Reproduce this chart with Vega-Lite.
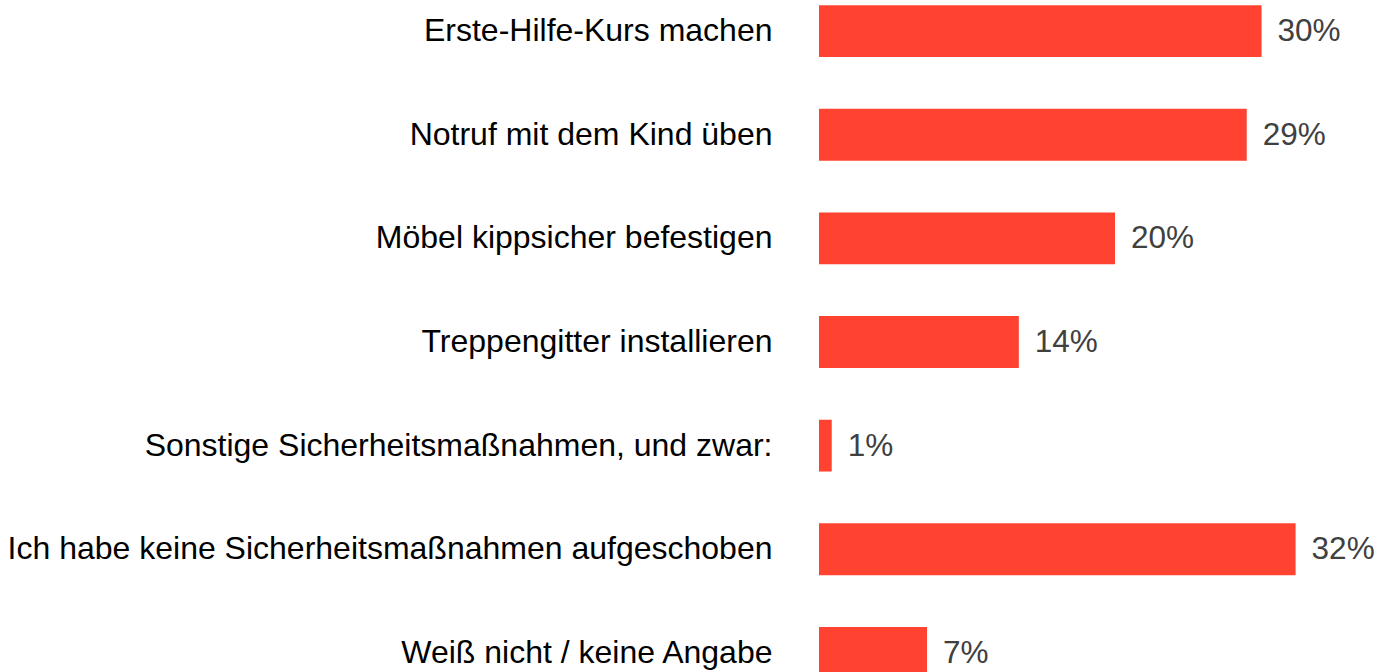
{
  "$schema": "https://vega.github.io/schema/vega-lite/v6.json",
  "width": 562,
  "height": 684,
  "autosize": {"type": "none"},
  "padding": {"left": 819, "top": 0, "right": 0, "bottom": 0},
  "background": "white",
  "config": {"view": {"stroke": null}, "font": "Liberation Sans"},
  "data": {
    "values": [
      {"kategorie": "Erste-Hilfe-Kurs machen", "wert": 29.9, "label": "30%"},
      {"kategorie": "Notruf mit dem Kind üben", "wert": 28.9, "label": "29%"},
      {"kategorie": "Möbel kippsicher befestigen", "wert": 20.0, "label": "20%"},
      {"kategorie": "Treppengitter installieren", "wert": 13.5, "label": "14%"},
      {"kategorie": "Sonstige Sicherheitsmaßnahmen, und zwar:", "wert": 0.86, "label": "1%"},
      {"kategorie": "Ich habe keine Sicherheitsmaßnahmen aufgeschoben", "wert": 32.2, "label": "32%"},
      {"kategorie": "Weiß nicht / keine Angabe", "wert": 7.3, "label": "7%"}
    ]
  },
  "encoding": {
    "y": {
      "field": "kategorie",
      "type": "nominal",
      "sort": null,
      "scale": {"paddingInner": 0.5, "paddingOuter": 0.05},
      "axis": {
        "title": null,
        "domain": false,
        "ticks": false,
        "tickSize": 0,
        "labelPadding": 47,
        "labelFontSize": 32,
        "labelColor": "#000000",
        "labelLimit": 0,
        "labelFont": "Liberation Sans"
      }
    },
    "x": {
      "field": "wert",
      "type": "quantitative",
      "scale": {"domain": [0, 37.97], "nice": false, "zero": true},
      "axis": null
    }
  },
  "layer": [
    {"mark": {"type": "bar", "color": "#FF4330"}},
    {
      "mark": {"type": "text", "align": "left", "baseline": "middle", "dx": 16, "dy": 1, "fontSize": 31.5, "color": "#404040", "font": "Liberation Sans"},
      "encoding": {"text": {"field": "label"}}
    }
  ]
}
